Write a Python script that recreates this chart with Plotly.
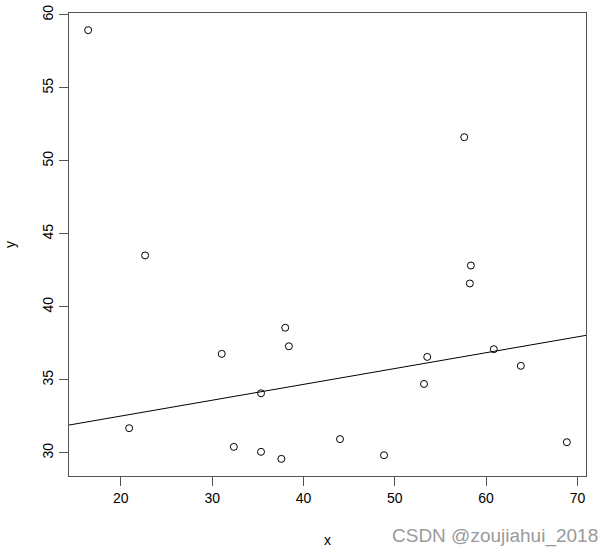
import plotly.graph_objects as go

# Data
x_values = [16.42, 22.66, 20.91, 32.37, 35.35, 37.58, 35.35, 44.0, 48.82, 53.2,
            68.84, 57.6, 58.33, 58.22, 60.84, 63.8, 53.55, 31.05, 38.0, 38.4]
y_values = [58.95, 43.52, 31.69, 30.41, 30.07, 29.59, 34.08, 30.94, 29.84, 34.72,
            30.73, 51.62, 42.83, 41.6, 37.1, 35.96, 36.57, 36.78, 38.57, 37.3]
fit_intercept = 30.35
fit_slope = 0.1085
x_ticks = [20, 30, 40, 50, 60, 70]
y_ticks = [30, 35, 40, 45, 50, 55, 60]

# R-style 4% axis padding
xmin, xmax = min(x_values), max(x_values)
ymin, ymax = min(y_values), max(y_values)
xpad = (xmax - xmin) * 0.04
ypad = (ymax - ymin) * 0.04
xr = [xmin - xpad, xmax + xpad]
yr = [ymin - ypad, ymax + ypad]

font_family = "Liberation Sans, Arial, sans-serif"

fig = go.Figure()
fig.add_trace(go.Scatter(
    x=x_values, y=y_values, mode="markers",
    marker=dict(symbol="circle-open", size=7, color="black", line=dict(width=1, color="black")),
    showlegend=False, hoverinfo="x+y",
))
fig.add_trace(go.Scatter(
    x=xr, y=[fit_intercept + fit_slope * v for v in xr], mode="lines",
    line=dict(color="black", width=1), showlegend=False, hoverinfo="skip",
))

axis_common = dict(
    showgrid=False, zeroline=False, showline=True, linecolor="#555555", linewidth=1,
    mirror=True, ticks="outside", ticklen=9, tickcolor="#555555", tickwidth=1,
    tickfont=dict(family=font_family, size=14, color="black"),
    ticklabeloverflow="allow",
)

fig.update_layout(
    width=615, height=556,
    margin=dict(l=68.5, r=29.3, t=13.3, b=80, autoexpand=False),
    paper_bgcolor="white", plot_bgcolor="white",
    xaxis=dict(range=xr, tickvals=x_ticks, **axis_common),
    yaxis=dict(range=yr, tickvals=y_ticks, tickangle=-90, **axis_common),
    font=dict(family=font_family, size=14, color="black"),
    annotations=[
        dict(text="x", xref="paper", yref="paper", x=0.5, y=0, yshift=-64,
             xanchor="center", yanchor="middle", showarrow=False,
             font=dict(family=font_family, size=14, color="black")),
        dict(text="y", xref="paper", yref="paper", x=0, y=0.5, xshift=-59.5,
             xanchor="center", yanchor="middle", showarrow=False, textangle=-90,
             font=dict(family=font_family, size=14, color="black")),
        dict(text="CSDN @zoujiahui_2018", xref="paper", yref="paper", x=1, y=0,
             xshift=14, yshift=-60, xanchor="right", yanchor="middle", showarrow=False,
             font=dict(family=font_family, size=19, color="#9a9a9a")),
    ],
)

fig.write_html("out.html", config={"displayModeBar": False},
               post_script="document.body.style.margin='0';")
